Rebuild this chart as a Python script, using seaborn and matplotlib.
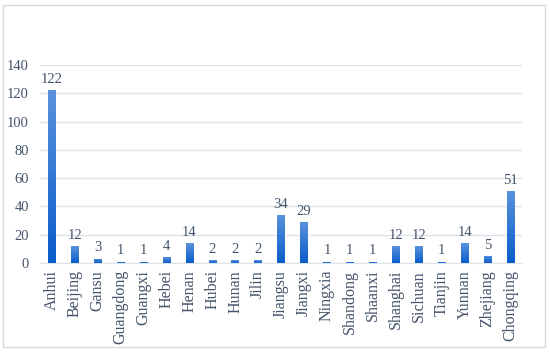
import numpy as np
import pandas as pd
import matplotlib
matplotlib.use("Agg")
import matplotlib.pyplot as plt
from matplotlib.colors import LinearSegmentedColormap
from matplotlib.patches import Rectangle
import seaborn as sns

# Données : nombre par province
provinces = ["Anhui", "Beijing", "Gansu", "Guangdong", "Guangxi", "Hebei", "Henan",
             "Hubei", "Hunan", "Jilin", "Jiangsu", "Jiangxi", "Ningxia", "Shandong",
             "Shaanxi", "Shanghai", "Sichuan", "Tianjin", "Yunnan", "Zhejiang", "Chongqing"]
counts = [122, 12, 3, 1, 1, 4, 14, 2, 2, 2, 34, 29, 1, 1, 1, 12, 12, 1, 14, 5, 51]
y_ticks = [0, 20, 40, 60, 80, 100, 120, 140]

df = pd.DataFrame({"province": provinces, "count": counts})

sns.set_style("white")
plt.rcParams["font.family"] = ["Liberation Serif", "DejaVu Serif"]
text_col = "#44546a"

fig = plt.figure(figsize=(5.5, 3.53), dpi=100)
# cadre extérieur gris clair
fig.patches.append(Rectangle((0.006, 0.016), 0.985, 0.97, transform=fig.transFigure,
                             fill=False, edgecolor="#d9d9d9", linewidth=1))
ax = fig.add_axes([0.073, 0.255, 0.876, 0.561])

sns.barplot(data=df, x="province", y="count", order=provinces, color="#1565c8",
            width=0.32, ax=ax, zorder=3)

ax.set_yticks(y_ticks)
ax.grid(axis="y", color="#dde3ea", linewidth=1, zorder=0)
for s in ["top", "right", "left"]:
    ax.spines[s].set_visible(False)
ax.spines["bottom"].set_color("#dde3ea")
ax.set_xlabel("")
ax.set_ylabel("")
ax.tick_params(axis="x", rotation=90, labelsize=11.5, colors=text_col, length=0, pad=5)
ax.tick_params(axis="y", labelsize=10.5, colors=text_col, length=0, pad=8)

# dégradé dans les barres
cmap = LinearSegmentedColormap.from_list("bleu", ["#0a5ccb", "#5a93dc"])
grad = np.linspace(0, 1, 256).reshape(-1, 1)
for bar in list(ax.patches):
    x0, y0 = bar.get_x(), bar.get_y()
    w, h = bar.get_width(), bar.get_height()
    bar.set_facecolor("none")
    im = ax.imshow(grad, cmap=cmap, aspect="auto", origin="lower",
                   extent=[x0, x0 + w, y0, y0 + h], zorder=3)
    im.set_clip_path(bar)

ax.set_xlim(-0.5, len(provinces) - 0.5)
ax.set_ylim(0, 140)

for i, v in enumerate(counts):
    ax.text(i, v + 3, str(v), ha="center", va="bottom", fontsize=10.5, color=text_col)

plt.savefig("out.png", dpi=100)
